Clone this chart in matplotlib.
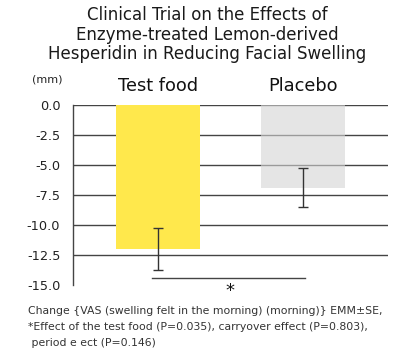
import numpy as np
import matplotlib
matplotlib.use("Agg")
import matplotlib.pyplot as plt

# data
groups = ["Test food", "Placebo"]
means = [-11.95, -6.85]
errors = [1.75, 1.65]
bar_colors = ["#ffe84c", "#d5d5d5"]
yticks = [0.0, -2.5, -5.0, -7.5, -10.0, -12.5, -15.0]

title = ("Clinical Trial on the Effects of\n"
         "Enzyme-treated Lemon-derived\n"
         "Hesperidin in Reducing Facial Swelling")
note = ("Change {VAS (swelling felt in the morning) (morning)} EMM\u00b1SE,\n"
        "*Effect of the test food (P=0.035), carryover effect (P=0.803),\n"
        " period e ect (P=0.146)")

plt.rcParams['font.family'] = ['DejaVu Sans']

fig = plt.figure(figsize=(4.14, 3.57), dpi=100)
ax = fig.add_axes([0.176, 0.2003, 0.761, 0.5042])

x = np.arange(len(groups))
bars = ax.bar(x, means, width=0.577, color=bar_colors, zorder=3)
bars[1].set_alpha(0.6)
ax.errorbar(x, means, yerr=errors, fmt="none", ecolor="#333333",
            elinewidth=1, capsize=3.5, capthick=1, zorder=4)

ax.set_xlim(-0.582, 1.582)
ax.set_ylim(-15, 0)
ax.set_yticks(yticks)
ax.set_yticklabels(["%.1f" % v for v in yticks], fontsize=9.3, color="#222222")
ax.set_xticks([])
ax.tick_params(axis="y", length=0, pad=9)
for s in ["top", "right", "bottom"]:
    ax.spines[s].set_visible(False)
ax.spines["left"].set_color("#444444")
ax.spines["left"].set_linewidth(1)
ax.yaxis.grid(True, color="#444444", linewidth=1, zorder=1)
ax.set_axisbelow(True)
for t, gl in zip(ax.get_yticks(), ax.get_ygridlines()):
    if t <= -15:
        gl.set_visible(False)

# group labels above the bars
for xi, g in zip(x, groups):
    ax.text(xi, 0.9, g, ha="center", va="bottom", fontsize=12.8,
            color="#111111", clip_on=False)
ax.text(-0.76, 1.75, "(mm)", ha="center", va="bottom", fontsize=8,
        color="#222222", clip_on=False)

# significance bracket
ax.plot([-0.04, 1.01], [-14.4, -14.4], color="#444444", linewidth=1,
        clip_on=False, zorder=4)
ax.text(0.5, -14.75, "*", ha="center", va="top", fontsize=13,
        color="#111111", clip_on=False)

fig.text(0.5, 0.982, title, ha="center", va="top", fontsize=12,
         linespacing=1.08, color="#1a1a1a")
fig.text(0.068, 0.142, note, ha="left", va="top", fontsize=7.8,
         linespacing=1.7, color="#333333")

fig.savefig("out.png", dpi=100)
